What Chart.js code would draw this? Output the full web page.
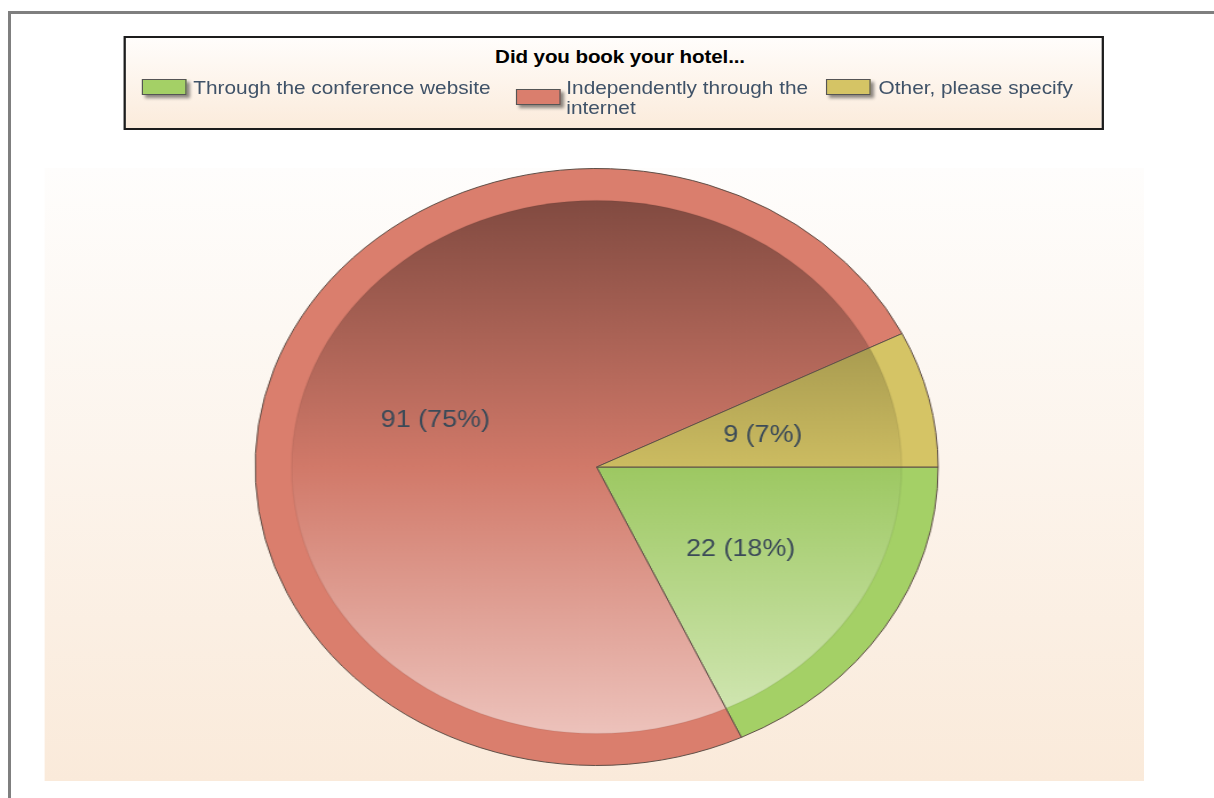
<!DOCTYPE html>
<html><head><meta charset="utf-8">
<script src="https://cdn.jsdelivr.net/npm/chart.js@4.4.1/dist/chart.umd.min.js"></script>
<style>
html,body{margin:0;padding:0;background:#fff;width:1214px;height:798px;overflow:hidden;font-family:"Liberation Sans",Arial,sans-serif;}
#frameTop{position:absolute;left:8px;top:11px;width:1206px;height:3px;background:#7f7f7f;}
#frameLeft{position:absolute;left:8px;top:11px;width:3px;height:787px;background:#7f7f7f;}
#stage{position:absolute;left:0;top:0;width:1062px;height:798px;transform:scaleX(1.144);transform-origin:0 0;}
#legend{position:absolute;left:108px;top:36px;width:853px;height:90px;border:2px solid #1c1c1c;background:linear-gradient(#fffdfb,#fbebdb);}
#legend .title{position:absolute;left:432px;top:9px;transform:translateX(-50%);white-space:nowrap;font-weight:bold;font-size:18px;line-height:20px;color:#000;letter-spacing:-0.1px;}
#legend .sw{position:absolute;width:37px;height:14px;border:1px solid #555;box-shadow:3px 3px 3px rgba(0,0,0,0.45);}
#legend .tx{position:absolute;font-size:18.2px;line-height:20px;color:#3f5268;}
#chartCanvas{position:absolute;left:39px;top:168px;background:linear-gradient(#fefdfc,#faeada);}
</style>
</head><body>
<div id="frameTop"></div><div id="frameLeft"></div>
<div id="stage">
  <div id="legend"></div>
  <canvas id="chartCanvas" width="961" height="613"></canvas>
</div>
<script>
const chartTitle = "Did you book your hotel...";
const categories = ["Through the conference website", "Independently through the internet", "Other, please specify"];
const counts = [22, 91, 9];
const sliceColors = ["#a4d066", "#da7e6d", "#d5c465"];

// legend (HTML) built from the arrays
const legendLayout = [
  {sx: 14, sy: 41, tx: 59, ty: 40, w: 300},
  {sx: 341, sy: 51, tx: 385, ty: 40, w: 215},
  {sx: 612, sy: 41, tx: 658, ty: 40, w: 200}
];
const lg = document.getElementById('legend');
const t = document.createElement('div'); t.className = 'title'; t.textContent = chartTitle; lg.appendChild(t);
categories.forEach((name, i) => {
  const L = legendLayout[i];
  const s = document.createElement('div'); s.className = 'sw';
  s.style.left = L.sx + 'px'; s.style.top = L.sy + 'px'; s.style.background = sliceColors[i];
  lg.appendChild(s);
  const x = document.createElement('div'); x.className = 'tx';
  x.style.left = L.tx + 'px'; x.style.top = L.ty + 'px'; x.style.width = L.w + 'px';
  x.textContent = name; lg.appendChild(x);
});

function hexRgb(h){ h = h.replace('#',''); return [0,2,4].map(i => parseInt(h.substr(i,2),16)); }
function shade(h, f){ const c = hexRgb(h).map(v => Math.round(v*f)); return `rgb(${c[0]},${c[1]},${c[2]})`; }
function tint(h, f){ const c = hexRgb(h).map(v => Math.round(v + (255-v)*f)); return `rgb(${c[0]},${c[1]},${c[2]})`; }

const patCache = {};
function slicePattern(chart, base){
  const ca = chart.chartArea;
  if (!ca) return base;
  const key = base + '|' + ca.left + ',' + ca.top + ',' + ca.width + ',' + ca.height;
  if (patCache[key]) return patCache[key];
  const w = chart.width, h = chart.height;
  const off = document.createElement('canvas'); off.width = w; off.height = h;
  const c = off.getContext('2d');
  const cx = (ca.left + ca.right) / 2, cy = (ca.top + ca.bottom) / 2;
  const R = (Math.min(ca.width, ca.height) - 1) / 2, rIn = R * 0.893;
  c.fillStyle = base; c.fillRect(0, 0, w, h);
  const g = c.createLinearGradient(0, cy - R, 0, cy + R);
  g.addColorStop(0, shade(base, 0.55));
  g.addColorStop(0.5, shade(base, 0.96));
  g.addColorStop(1, tint(base, 0.6));
  c.beginPath(); c.arc(cx, cy, rIn, 0, Math.PI * 2); c.fillStyle = g; c.fill();
  c.strokeStyle = 'rgba(0,0,0,0.05)'; c.lineWidth = 1.5; c.stroke();
  const p = chart.ctx.createPattern(off, 'no-repeat');
  patCache[key] = p;
  return p;
}

const labelPlugin = {
  id: 'sliceLabels',
  afterDatasetsDraw(chart){
    const ctx = chart.ctx;
    const meta = chart.getDatasetMeta(0);
    const total = counts.reduce((a, b) => a + b, 0);
    ctx.save();
    ctx.font = '23.5px "Liberation Sans", Arial, sans-serif';
    ctx.fillStyle = '#3b4a58';
    ctx.textAlign = 'center';
    ctx.textBaseline = 'middle';
    meta.data.forEach((arc, i) => {
      const p = arc.getCenterPoint();
      ctx.fillText(`${counts[i]} (${Math.round(counts[i] / total * 100)}%)`, p.x, p.y + 2.5);
    });
    ctx.restore();
  }
};

new Chart(document.getElementById('chartCanvas'), {
  type: 'pie',
  data: {
    labels: categories,
    datasets: [{
      data: counts,
      backgroundColor: (ctx) => slicePattern(ctx.chart, sliceColors[ctx.dataIndex]),
      borderColor: '#5e4e46',
      borderWidth: 1
    }]
  },
  options: {
    responsive: false,
    devicePixelRatio: 1,
    animation: false,
    events: [],
    rotation: 90,
    layout: {padding: {left: 4, right: 0, top: 0, bottom: 15}},
    plugins: {legend: {display: false}, tooltip: {enabled: false}, title: {display: false}}
  },
  plugins: [labelPlugin]
});
</script>
</body></html>
